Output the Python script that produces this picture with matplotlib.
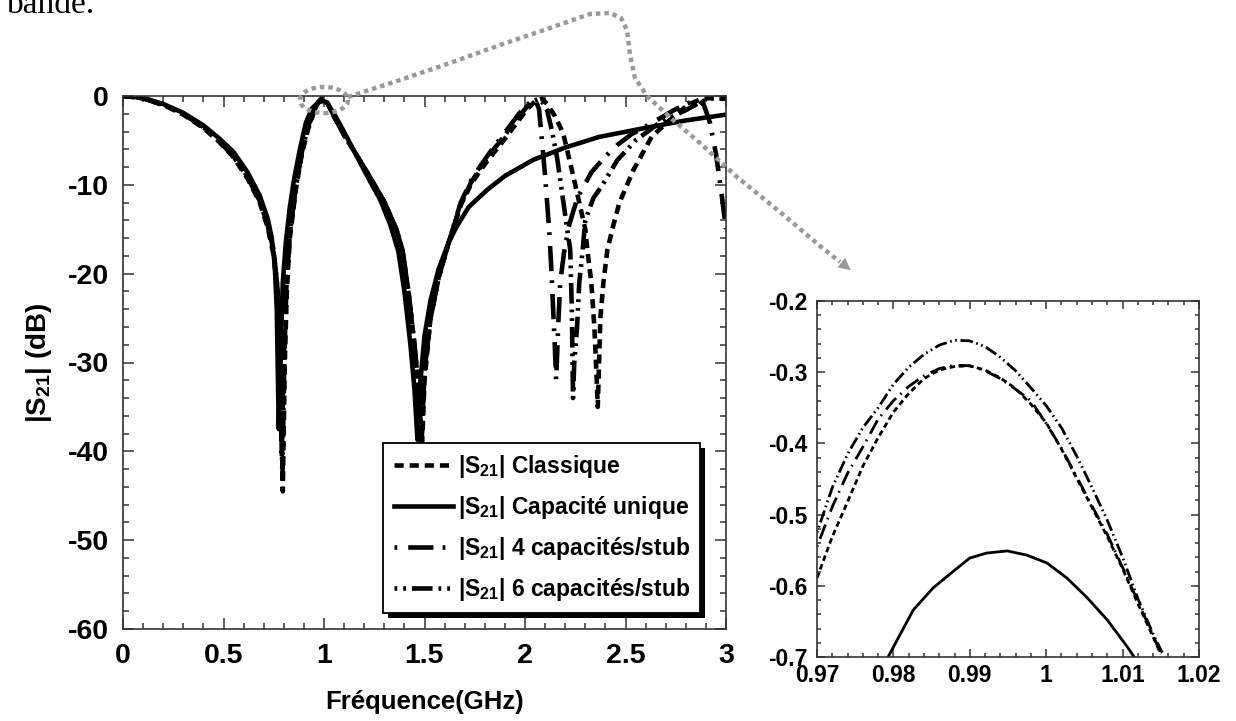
import matplotlib
matplotlib.use('Agg')
import matplotlib.pyplot as plt
from matplotlib.patches import Ellipse, Rectangle
from matplotlib.lines import Line2D
from matplotlib.ticker import MultipleLocator

plt.rcParams['font.family'] = ['Liberation Sans', 'DejaVu Sans']
plt.rcParams['font.weight'] = 'bold'
plt.rcParams['axes.unicode_minus'] = False
plt.rcParams['mathtext.fontset'] = 'custom'
plt.rcParams['mathtext.rm'] = 'Liberation Sans:bold'
plt.rcParams['mathtext.it'] = 'Liberation Sans:bold'
plt.rcParams['mathtext.bf'] = 'Liberation Sans:bold'

# ---- main plot data (GHz, dB) ----
f_cl = [0, 0.1, 0.2, 0.3, 0.4, 0.48, 0.55, 0.62, 0.68, 0.72, 0.75, 0.77, 0.785, 0.795,
        0.805, 0.815, 0.83, 0.86, 0.89, 0.92, 0.95, 0.97, 0.989, 1.0, 1.015, 1.05, 1.10,
        1.15, 1.22, 1.30, 1.36, 1.39, 1.42, 1.45, 1.47, 1.488, 1.50, 1.53, 1.57, 1.62,
        1.68, 1.73, 1.78, 1.83, 1.88, 1.93, 1.97, 2.01, 2.05, 2.085, 2.11, 2.15, 2.19,
        2.24, 2.27, 2.30, 2.31, 2.33, 2.345, 2.355, 2.362, 2.37, 2.375, 2.39, 2.41, 2.44,
        2.47, 2.54, 2.63, 2.71, 2.81, 2.88, 2.95, 3.0]
s_cl = [0, -0.25, -1.0, -2.1, -3.6, -5.2, -6.9, -9.3, -12, -14.8, -18, -23, -30, -44.5,
        -30, -22, -16, -10.5, -6.5, -3.8, -1.8, -0.75, -0.29, -0.35, -0.7, -2.3, -4.4,
        -6.2, -8.8, -11.9, -15, -17.3, -22, -28, -33, -39.3, -32, -25, -20.5, -16.5,
        -12.3, -10.0, -8.3, -6.8, -5.4, -3.9, -2.7, -1.5, -0.6, -0.3, -0.9, -2.3, -4.2,
        -9, -12, -15, -17.3, -21, -26, -31, -35, -29, -25, -21, -17.3, -14.5,
        -12, -8.3, -4.6, -2.9, -1.0, -0.3, -0.2, -0.3]

f_cu = [0, 0.1, 0.2, 0.3, 0.4, 0.48, 0.55, 0.62, 0.68, 0.72, 0.74, 0.755, 0.765, 0.775,
        0.785, 0.795, 0.81, 0.83, 0.85, 0.88, 0.91, 0.94, 0.97, 0.995, 1.011, 1.02, 1.05,
        1.08, 1.145, 1.21, 1.28, 1.33, 1.37, 1.40, 1.43, 1.45, 1.465, 1.48, 1.50, 1.53,
        1.57, 1.62, 1.66, 1.72, 1.81, 1.90, 2.04, 2.2, 2.37, 2.62, 2.8, 3.0]
s_cu = [0, -0.2, -0.9, -1.9, -3.3, -4.8, -6.3, -8.6, -11.2, -13.8, -16, -19, -24, -37.5,
        -28, -21, -16.5, -12.5, -9.5, -6.0, -3.0, -1.4, -0.75, -0.55, -0.69, -0.95, -2.0,
        -3.2, -6.0, -8.8, -11.7, -14.5, -17.5, -22, -28, -33, -38.7, -32, -27, -23,
        -19.5, -16.5, -14.7, -12.5, -10.6, -9.0, -7.2, -5.8, -4.6, -3.5, -2.75, -2.1]

f_c4 = [0, 0.1, 0.2, 0.3, 0.4, 0.48, 0.55, 0.62, 0.68, 0.72, 0.75, 0.77, 0.78, 0.79,
        0.80, 0.81, 0.83, 0.86, 0.89, 0.92, 0.95, 0.97, 0.988, 1.0, 1.015, 1.05, 1.10,
        1.15, 1.22, 1.30, 1.36, 1.39, 1.42, 1.45, 1.47, 1.485, 1.50, 1.53, 1.57, 1.62,
        1.68, 1.73, 1.78, 1.83, 1.88, 1.93, 1.97, 2.0, 2.03, 2.05, 2.07, 2.085, 2.10,
        2.11, 2.12, 2.13, 2.14, 2.148, 2.155, 2.165, 2.175, 2.195, 2.22, 2.26, 2.33,
        2.40, 2.46, 2.53, 2.61, 2.68, 2.74, 2.80, 2.86, 2.89, 2.92, 2.95, 2.975, 3.0]
s_c4 = [0, -0.25, -1.0, -2.0, -3.5, -5.1, -6.8, -9.1, -11.8, -14.5, -17.5, -22, -28, -41,
        -28, -21, -15.5, -10.2, -6.3, -3.6, -1.7, -0.7, -0.29, -0.35, -0.7, -2.3, -4.4,
        -6.2, -8.8, -11.9, -15, -17.3, -22, -28, -33, -39, -31, -25, -20.5, -16.5,
        -12, -9.6, -7.8, -6.2, -4.7, -3.2, -2.0, -1.2, -0.6, -0.3, -1.5, -5.2, -9,
        -12, -15, -19, -24, -28, -32, -26, -21, -17.5, -14.5, -11.5, -8.6,
        -6.8, -5.5, -4.3, -3.3, -2.4, -1.6, -0.9, -0.4, -1.0, -3.0, -6.5, -10.5, -15]

f_c6 = [0, 0.1, 0.2, 0.3, 0.4, 0.48, 0.55, 0.62, 0.68, 0.72, 0.75, 0.77, 0.783, 0.793,
        0.803, 0.813, 0.83, 0.86, 0.89, 0.92, 0.95, 0.97, 0.988, 1.0, 1.015, 1.05, 1.10,
        1.15, 1.22, 1.30, 1.36, 1.39, 1.42, 1.45, 1.47, 1.485, 1.50, 1.53, 1.57, 1.62,
        1.68, 1.73, 1.78, 1.83, 1.88, 1.93, 1.97, 2.01, 2.04, 2.07, 2.09, 2.11, 2.135,
        2.16, 2.185, 2.21, 2.225, 2.233, 2.239, 2.245, 2.259, 2.27, 2.284, 2.30, 2.34,
        2.38, 2.46, 2.55, 2.67, 2.80, 2.88, 2.93, 3.0]
s_c6 = [0, -0.25, -1.0, -2.0, -3.5, -5.1, -6.8, -9.1, -11.8, -14.5, -17.5, -22, -29, -43,
        -29, -21.5, -15.5, -10.2, -6.2, -3.5, -1.6, -0.65, -0.255, -0.3, -0.69, -2.3, -4.4,
        -6.2, -8.8, -11.9, -15, -17.3, -22, -28, -33, -39, -31, -25, -20.5, -16.5,
        -12.2, -9.8, -8.0, -6.4, -5.0, -3.5, -2.3, -1.2, -0.6, -0.3, -0.8, -1.6, -4,
        -7, -11, -15, -17.3, -24, -34, -30, -26, -21, -18, -14, -11.5,
        -10.2, -7.2, -5, -3, -1.6, -0.6, -0.3, -0.3]

# ---- zoom data around the first pass band ----
fz_cl = [0.970, 0.972, 0.974, 0.976, 0.978, 0.980, 0.982, 0.984, 0.986, 0.988, 0.990,
         0.992, 0.994, 0.996, 0.998, 1.000, 1.002, 1.004, 1.006, 1.008, 1.010, 1.012,
         1.014, 1.015]
sz_cl = [-0.589, -0.531, -0.482, -0.432, -0.392, -0.356, -0.330, -0.309, -0.297, -0.292,
         -0.291, -0.297, -0.308, -0.323, -0.345, -0.371, -0.408, -0.449, -0.490, -0.531,
         -0.576, -0.625, -0.672, -0.696]

fz_cu = [0.9785, 0.9793, 0.9826, 0.9852, 0.9878, 0.9900, 0.9922, 0.9949, 0.9975, 1.0001,
         1.0027, 1.0053, 1.0080, 1.0107, 1.0120]
sz_cu = [-0.712, -0.700, -0.634, -0.603, -0.580, -0.561, -0.554, -0.551, -0.557, -0.568,
         -0.589, -0.616, -0.648, -0.687, -0.708]

fz_c4 = [0.970, 0.972, 0.974, 0.976, 0.978, 0.980, 0.982, 0.984, 0.986, 0.988, 0.990,
         0.992, 0.994, 0.996, 0.998, 1.000, 1.002, 1.004, 1.006, 1.008, 1.010, 1.012,
         1.014, 1.0152]
sz_c4 = [-0.545, -0.489, -0.442, -0.405, -0.366, -0.340, -0.320, -0.305, -0.295, -0.290,
         -0.291, -0.298, -0.309, -0.324, -0.340, -0.372, -0.407, -0.447, -0.488, -0.528,
         -0.574, -0.622, -0.670, -0.700]

fz_c6 = [0.970, 0.972, 0.974, 0.976, 0.978, 0.980, 0.982, 0.984, 0.986, 0.988, 0.990,
         0.992, 0.994, 0.996, 0.998, 1.000, 1.002, 1.004, 1.006, 1.008, 1.010, 1.012,
         1.014, 1.0152]
sz_c6 = [-0.525, -0.462, -0.415, -0.378, -0.350, -0.317, -0.293, -0.275, -0.262, -0.255,
         -0.256, -0.264, -0.279, -0.298, -0.322, -0.347, -0.378, -0.418, -0.462, -0.508,
         -0.560, -0.618, -0.668, -0.694]

labels = ['|S$_{21}$| Classique', '|S$_{21}$| Capacité unique',
          '|S$_{21}$| 4 capacités/stub', '|S$_{21}$| 6 capacités/stub']

# line styles (dash patterns in units of line width)
st_cl = dict(dashes=(2.0, 1.3))
st_cu = dict(linestyle='-')
st_c4 = dict(dashes=(0.6, 2.4, 5.5, 2.0))
st_c6 = dict(dashes=(0.6, 1.3, 0.6, 1.3, 4.5, 1.3))

fig = plt.figure(figsize=(12.36, 7.21), dpi=100)
W, H = 1236.0, 721.0
spine_col = '#333333'


def style_axes(a, fs, maj, mino):
    for s in a.spines.values():
        s.set_color(spine_col)
        s.set_linewidth(1.2)
    a.tick_params(which='both', direction='in', top=True, right=True,
                  colors=spine_col, labelcolor='black', width=1.1)
    a.tick_params(which='major', length=maj, labelsize=fs)
    a.tick_params(which='minor', length=mino)
    for lab in a.get_xticklabels() + a.get_yticklabels():
        lab.set_fontweight('bold')


# ---- main axes ----
ax = fig.add_axes([123 / W, 1 - 629 / H, 603 / W, 533 / H])
lw = 3.3
l1, = ax.plot(f_cl, s_cl, color='black', lw=lw, **st_cl)
l2, = ax.plot(f_cu, s_cu, color='black', lw=lw, **st_cu)
l3, = ax.plot(f_c4, s_c4, color='black', lw=lw, **st_c4)
l4, = ax.plot(f_c6, s_c6, color='black', lw=lw, **st_c6)
ax.set_xlim(0, 3)
ax.set_ylim(-60, 0)
ax.xaxis.set_minor_locator(MultipleLocator(0.1))
ax.yaxis.set_major_locator(MultipleLocator(10))
ax.yaxis.set_minor_locator(MultipleLocator(2))
ax.set_xticks([0, 0.5, 1, 1.5, 2, 2.5, 3])
ax.set_xticklabels(['0', '0.5', '1', '1.5', '2', '2.5', '3'])
style_axes(ax, 20.5, 8, 4)
ax.tick_params(axis='x', pad=10)
ax.tick_params(axis='y', pad=10)
ax.set_xlabel('Fréquence(GHz)', fontsize=18.5, fontweight='bold', labelpad=15)
ax.set_ylabel('|S$_{21}$| (dB)', fontsize=20, fontweight='bold', labelpad=10)

leg = ax.legend([l1, l2, l3, l4], labels, loc='upper left',
                bbox_to_anchor=(0.432, 0.349), borderaxespad=0, fontsize=16.5,
                handlelength=2.6, handletextpad=0.2, labelspacing=0.6,
                borderpad=0.45, fancybox=False, framealpha=1)
leg.get_frame().set_edgecolor('black')
leg.get_frame().set_linewidth(1.3)
for t in leg.get_texts():
    t.set_fontweight('bold')

# black drop shadow behind the legend box
fig.canvas.draw()
bb = leg.get_window_extent().transformed(ax.transAxes.inverted())
off_x, off_y = 5 / 603, 5 / 533
ax.add_patch(Rectangle((bb.x0 + off_x, bb.y0 - off_y), bb.width, bb.height,
                       transform=ax.transAxes, facecolor='black', edgecolor='none',
                       zorder=4.9, clip_on=False))

# ---- zoom axes ----
axz = fig.add_axes([817 / W, 1 - 657 / H, 382 / W, 356 / H])
lwz = 2.0
axz.plot(fz_cl, sz_cl, color='black', lw=lwz, **st_cl)
axz.plot(fz_cu, sz_cu, color='black', lw=lwz, **st_cu)
axz.plot(fz_c4, sz_c4, color='black', lw=lwz, **st_c4)
axz.plot(fz_c6, sz_c6, color='black', lw=lwz, **st_c6)
axz.set_xlim(0.97, 1.02)
axz.set_ylim(-0.7, -0.2)
axz.set_xticks([0.97, 0.98, 0.99, 1.0, 1.01, 1.02])
axz.set_xticklabels(['0.97', '0.98', '0.99', '1', '1.01', '1.02'])
axz.set_yticks([-0.7, -0.6, -0.5, -0.4, -0.3, -0.2])
axz.set_yticklabels(['-0.7', '-0.6', '-0.5', '-0.4', '-0.3', '-0.2'])
axz.xaxis.set_minor_locator(MultipleLocator(0.002))
axz.yaxis.set_minor_locator(MultipleLocator(0.02))
style_axes(axz, 16.5, 6, 3)
axz.tick_params(axis='x', pad=5)
axz.tick_params(axis='y', pad=7)

# ---- grey dotted call-out (figure pixels, origin top-left) ----
grey = '#999999'
loop = Ellipse((324 / W, 1 - 100 / H), 48 / W, 26 / H, transform=fig.transFigure,
               fill=False, edgecolor=grey, lw=3.2, linestyle=(0, (1, 0.9)))
fig.add_artist(loop)
path_px = [(348, 97), (400, 80), (450, 63), (500, 45), (550, 28), (590, 14), (610, 13),
           (621, 18), (627, 30), (630, 55), (635, 78), (647, 96), (673, 120), (700, 143),
           (737, 177), (780, 212), (820, 246), (840, 262)]
xs = [p[0] / W for p in path_px]
ys = [1 - p[1] / H for p in path_px]
fig.add_artist(Line2D(xs, ys, transform=fig.transFigure, color=grey, lw=3.2,
                      linestyle=(0, (1, 0.9))))
fig.add_artist(plt.Annotation('', xy=(853, H - 272), xytext=(838, H - 260),
                              xycoords='figure pixels', textcoords='figure pixels',
                              arrowprops=dict(arrowstyle='-|>', color=grey, lw=0,
                                              mutation_scale=22)))

# cut-off line of the surrounding document text
fig.text(7 / W, 1 - 13 / H, 'bande.', fontsize=24, family='Liberation Serif',
         fontweight='normal', va='baseline', ha='left')

fig.savefig('out.png', dpi=100)
